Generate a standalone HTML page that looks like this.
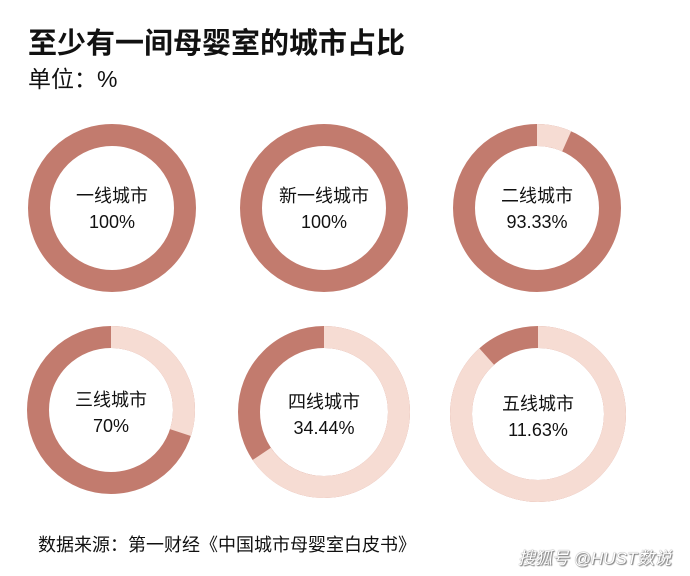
<!DOCTYPE html>
<html><head><meta charset="utf-8"><style>
body{margin:0;width:690px;height:576px;background:#fff;font-family:"Liberation Sans","Noto Sans CJK SC",sans-serif;overflow:hidden;position:relative}
.t{position:absolute;left:28px;top:20px;font-size:29px;font-weight:bold;color:#111;white-space:nowrap}
.s{position:absolute;left:28px;top:60px;font-size:23px;color:#111}
.f{position:absolute;left:38px;top:531px;font-size:18px;color:#111;white-space:nowrap}
.w{position:absolute;left:518px;top:544px;font-size:17px;font-style:italic;color:#fff;text-shadow:1px 1px 1px #777,0 0 1px #555;white-space:nowrap}
svg{position:absolute;left:0;top:0}
text{font-family:"Liberation Sans","Noto Sans CJK SC",sans-serif;font-size:18px;fill:#111;text-anchor:middle}
</style></head><body>
<div class="t">至少有一间母婴室的城市占比</div>
<div class="s">单位：%</div>
<svg width="690" height="576">
<g fill="none" stroke-width="22">
<circle cx="112" cy="208" r="73" stroke="#c27b6e"/>
<circle cx="324" cy="208" r="73" stroke="#c27b6e"/>
<circle cx="537" cy="208" r="73" stroke="#c27b6e"/>
<circle cx="537" cy="208" r="73" stroke="#f6dcd3" stroke-dasharray="30.6 500" transform="rotate(-90 537 208)"/>
<circle cx="111" cy="410" r="73" stroke="#c27b6e"/>
<circle cx="111" cy="410" r="73" stroke="#f6dcd3" stroke-dasharray="137.6 500" transform="rotate(-90 111 410)"/>
<circle cx="324" cy="412" r="75" stroke="#c27b6e"/>
<circle cx="324" cy="412" r="75" stroke="#f6dcd3" stroke-dasharray="308.9 500" transform="rotate(-90 324 412)"/>
<circle cx="538" cy="414" r="77" stroke="#c27b6e"/>
<circle cx="538" cy="414" r="77" stroke="#f6dcd3" stroke-dasharray="427.5 500" transform="rotate(-90 538 414)"/>
</g>
<text x="112" y="202">一线城市</text><text x="112" y="228">100%</text>
<text x="324" y="202">新一线城市</text><text x="324" y="228">100%</text>
<text x="537" y="202">二线城市</text><text x="537" y="228">93.33%</text>
<text x="111" y="406">三线城市</text><text x="111" y="432">70%</text>
<text x="324" y="408">四线城市</text><text x="324" y="434">34.44%</text>
<text x="538" y="410">五线城市</text><text x="538" y="436">11.63%</text>
</svg>
<div class="f">数据来源：第一财经《中国城市母婴室白皮书》</div>
<div class="w">搜狐号 @HUST数说</div>
</body></html>
